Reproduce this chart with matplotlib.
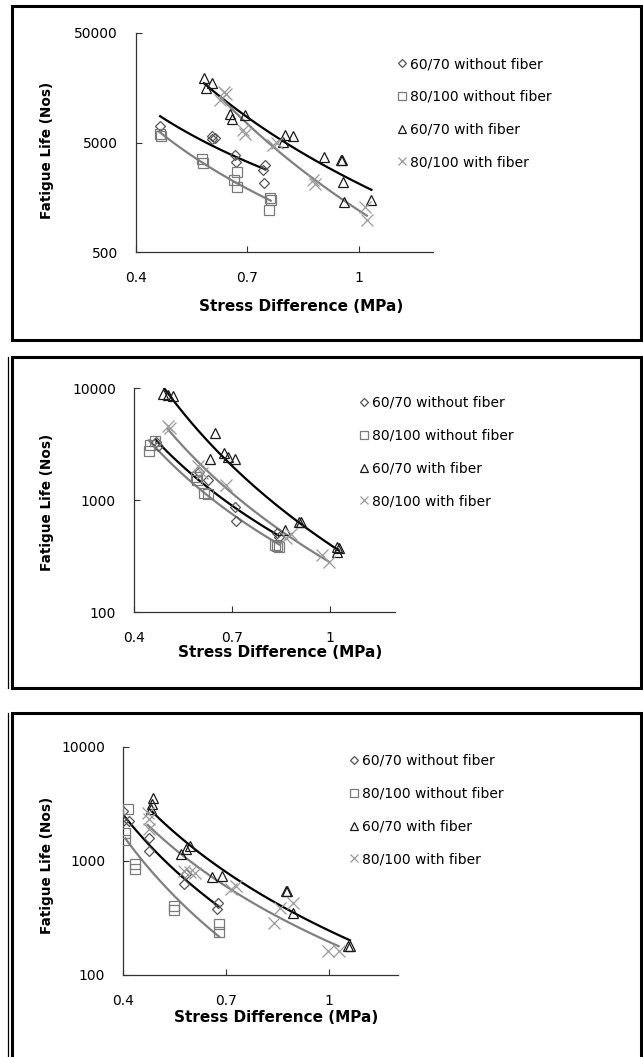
import numpy as np
import matplotlib
matplotlib.use('Agg')
import matplotlib.pyplot as plt
from matplotlib.lines import Line2D
from matplotlib.patches import Rectangle
from matplotlib.ticker import FixedLocator, FixedFormatter, NullLocator

plt.rcParams['font.family'] = ['DejaVu Sans']

# ---------------- data ----------------
series_labels = ['60/70 without fiber', '80/100 without fiber',
                 '60/70 with fiber', '80/100 with fiber']
x_ticks = [0.4, 0.7, 1.0]
x_tick_labels = ['0.4', '0.7', '1']
p1_yticks = [500, 5000, 50000]
p1_ytick_labels = ['500', '5000', '50000']
p23_yticks = [100, 1000, 10000]
p23_ytick_labels = ['100', '1000', '10000']
x_label = 'Stress Difference (MPa)'
y_label = 'Fatigue Life (Nos)'

# Panel 1
p1_d_x = [0.465, 0.606, 0.612, 0.606, 0.667, 0.669, 0.748, 0.742, 0.745]
p1_d_y = [7050, 5750, 5500, 5330, 3830, 3330, 3100, 2790, 2150]
p1_s_x = [0.464, 0.468, 0.578, 0.580, 0.672, 0.664, 0.672, 0.761, 0.763, 0.757]
p1_s_y = [5960, 5750, 3570, 3260, 2700, 2260, 1960, 1550, 1480, 1200]
p1_t_x = [0.583, 0.604, 0.589, 0.654, 0.658, 0.694, 0.802, 0.823, 0.796,
          0.907, 0.952, 0.955, 0.957, 0.961, 1.034]
p1_t_y = [19230, 17330, 15600, 9200, 8280, 8890, 5830, 5710, 5070,
          3650, 3490, 3490, 2185, 1433, 1483]
p1_c_x = [0.638, 0.643, 0.627, 0.688, 0.694, 0.768, 0.781, 0.878, 0.883, 1.018, 1.022]
p1_c_y = [14510, 13800, 12190, 6480, 6040, 4780, 4900, 2260, 2110, 1290, 975]

# Panel 2
p2_d_x = [0.466, 0.475, 0.600, 0.627, 0.710, 0.712, 0.838, 0.845]
p2_d_y = [3300, 3030, 1780, 1510, 870, 650, 510, 470]
p2_s_x = [0.446, 0.448, 0.463, 0.590, 0.594, 0.616, 0.626, 0.833, 0.838, 0.845]
p2_s_y = [2750, 3100, 3330, 1620, 1500, 1150, 1130, 400, 385, 380]
p2_t_x = [0.488, 0.504, 0.519, 0.649, 0.633, 0.677, 0.687, 0.710,
          0.862, 0.905, 0.912, 1.022, 1.028, 1.022]
p2_t_y = [8900, 8715, 8420, 3950, 2310, 2620, 2440, 2310,
          540, 640, 630, 382, 370, 345]
p2_c_x = [0.504, 0.510, 0.597, 0.607, 0.682, 0.865, 0.880, 0.977, 0.997]
p2_c_y = [4600, 4400, 2000, 1750, 1360, 454, 500, 321, 281]

# Panel 3
p3_d_x = [0.400, 0.400, 0.418, 0.474, 0.476, 0.583, 0.578, 0.677, 0.672]
p3_d_y = [2750, 2240, 2240, 1580, 1220, 764, 624, 430, 377]
p3_s_x = [0.413, 0.406, 0.406, 0.435, 0.435, 0.549, 0.549, 0.679, 0.679]
p3_s_y = [2840, 1770, 1520, 935, 845, 403, 369, 278, 238]
p3_t_x = [0.486, 0.484, 0.481, 0.583, 0.593, 0.568, 0.659, 0.688,
          0.875, 0.877, 0.893, 1.053, 1.060]
p3_t_y = [3520, 3140, 2840, 1270, 1350, 1140, 724, 738,
          545, 540, 352, 179, 179]
p3_c_x = [0.471, 0.476, 0.476, 0.578, 0.593, 0.608, 0.713, 0.728,
          0.856, 0.895, 0.838, 0.997, 1.027]
p3_c_y = [2650, 2320, 1900, 817, 800, 780, 562, 600,
          390, 430, 288, 162, 162]

# ---------------- styles ----------------
styles = [
    dict(marker='D', ms=5.0, mec='#555555', line='black'),
    dict(marker='s', ms=6.5, mec='#7a7a7a', line='#808080'),
    dict(marker='^', ms=7.5, mec='#1a1a1a', line='black'),
    dict(marker='x', ms=8.0, mec='#9a9a9a', line='#808080'),
]

W, H = 643, 1057
fig = plt.figure(figsize=(W / 100, H / 100), dpi=100)


def fx(px):
    return px / W


def fy(py):
    return 1 - py / H


# panel frames
def frame(top, bottom, double):
    fig.add_artist(Rectangle((fx(11.5), fy(bottom)), fx(641) - fx(11.5), fy(top) - fy(bottom),
                             transform=fig.transFigure, fill=False, lw=2.2, ec='black'))
    if double:
        fig.add_artist(Line2D([fx(7.5), fx(7.5)], [fy(top), fy(min(bottom, 1057))],
                              transform=fig.transFigure, lw=0.9, color='black'))


frame(6, 340, False)
frame(357, 688, True)
frame(713, 1080, True)

panels = [
    dict(box=(136, 33, 433, 252), ylim=(500, 50000), yt=p1_yticks, ytl=p1_ytick_labels,
         data=[(p1_d_x, p1_d_y), (p1_s_x, p1_s_y), (p1_t_x, p1_t_y), (p1_c_x, p1_c_y)],
         xl=(0.556, -0.251), yl=(-0.30, 0.466), leg=(398, 57)),
    dict(box=(134, 388, 395, 612), ylim=(100, 10000), yt=p23_yticks, ytl=p23_ytick_labels,
         data=[(p2_d_x, p2_d_y), (p2_s_x, p2_s_y), (p2_t_x, p2_t_y), (p2_c_x, p2_c_y)],
         xl=(0.56, -0.183), yl=(-0.333, 0.487), leg=(360, 396)),
    dict(box=(123.3, 746.7, 398, 975), ylim=(100, 10000), yt=p23_yticks, ytl=p23_ytick_labels,
         data=[(p3_d_x, p3_d_y), (p3_s_x, p3_s_y), (p3_t_x, p3_t_y), (p3_c_x, p3_c_y)],
         xl=(0.556, -0.188), yl=(-0.278, 0.482), leg=(350, 754)),
]

for p in panels:
    l, t, r, b = p['box']
    ax = fig.add_axes([fx(l), fy(b), (r - l) / W, (b - t) / H])
    ax.set_yscale('log')
    ax.set_xlim(0.4, 1.2)
    ax.set_ylim(*p['ylim'])
    handles = []
    for (xs, ys), st, lab in zip(p['data'], styles, series_labels):
        xs = np.asarray(xs, float)
        ys = np.asarray(ys, float)
        # power trendline y = a * x^b
        bcoef, lna = np.polyfit(np.log(xs), np.log(ys), 1)
        xx = np.linspace(xs.min(), xs.max(), 100)
        ax.plot(xx, np.exp(lna) * xx ** bcoef, color=st['line'], lw=1.6, zorder=2)
        h, = ax.plot(xs, ys, ls='none', marker=st['marker'], ms=st['ms'],
                     mfc='none', mec=st['mec'], mew=0.9, label=lab, zorder=3)
        handles.append(h)
    for s in ['top', 'right']:
        ax.spines[s].set_visible(False)
    for s in ['left', 'bottom']:
        ax.spines[s].set_color('#333333')
        ax.spines[s].set_linewidth(0.9)
    ax.xaxis.set_major_locator(FixedLocator(x_ticks))
    ax.xaxis.set_major_formatter(FixedFormatter(x_tick_labels))
    ax.yaxis.set_major_locator(FixedLocator(p['yt']))
    ax.yaxis.set_major_formatter(FixedFormatter(p['ytl']))
    ax.yaxis.set_minor_locator(NullLocator())
    ax.xaxis.set_minor_locator(NullLocator())
    ax.tick_params(axis='both', direction='in', length=4, width=0.8, color='#333333',
                   labelsize=10)
    ax.tick_params(axis='x', pad=14)
    ax.tick_params(axis='y', pad=13)
    ax.set_xlabel(x_label, fontsize=11, fontweight='bold', va='center')
    ax.set_ylabel(y_label, fontsize=9.8, fontweight='bold', va='center')
    ax.xaxis.set_label_coords(*p['xl'])
    ax.yaxis.set_label_coords(*p['yl'])
    lx, ly = p['leg']
    ax.legend(handles=handles, loc='upper left', bbox_to_anchor=(fx(lx), fy(ly)),
              bbox_transform=fig.transFigure, frameon=False, fontsize=10,
              borderpad=0, borderaxespad=0, handlelength=0.6, handletextpad=0.25,
              labelspacing=1.35, markerscale=0.8)

fig.savefig('out.png', dpi=100)
